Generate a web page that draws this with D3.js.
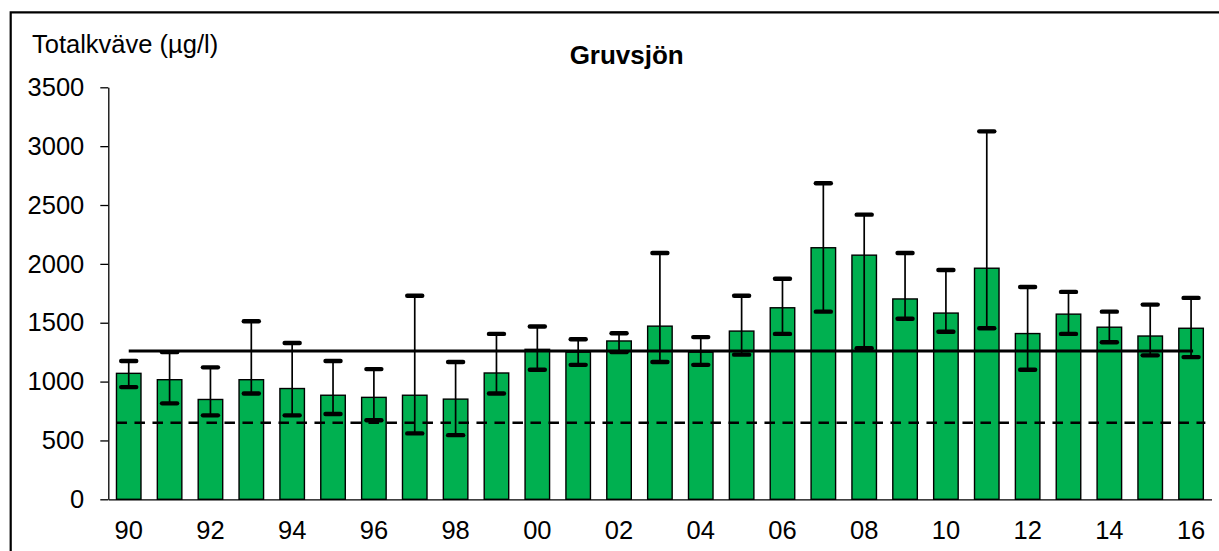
<!DOCTYPE html>
<html>
<head>
<meta charset="utf-8">
<script src="https://cdn.jsdelivr.net/npm/d3@7"></script>
<style>
  html, body { margin: 0; padding: 0; background: #fff; overflow: hidden; }
  svg { display: block; }
  text { font-family: "Liberation Sans", Arial, sans-serif; fill: #000; }
</style>
</head>
<body>
<svg id="chart" width="1219" height="551"></svg>
<script>
// Total nitrogen in Gruvsjön, yearly mean with min/max range (µg/l)
const years = ["90","91","92","93","94","95","96","97","98","99","00","01","02","03",
               "04","05","06","07","08","09","10","11","12","13","14","15","16"];
const meanValues = [1070,1016,848,1016,941,884,866,884,851,1073,1274,1250,1345,1471,
                    1250,1429,1627,2137,2074,1702,1582,1963,1408,1573,1462,1387,1453];
const maxValues  = [1175,1250,1121,1513,1328,1175,1106,1729,1166,1405,1468,1360,1411,2092,
                    1378,1729,1873,2685,2418,2092,1948,3126,1804,1762,1594,1654,1711];
const minValues  = [953,815,713,899,713,725,671,560,545,899,1100,1142,1250,1166,
                    1142,1229,1405,1594,1283,1534,1423,1453,1100,1405,1334,1223,1208];
const yTicks = [0,500,1000,1500,2000,2500,3000,3500];
const periodMean = 1260;   // mean for the whole period
const referenceLevel = 650; // reference level (dashed)

const svg = d3.select("#chart");

// outer frame (left and top edges fall inside the view)
svg.append("path")
  .attr("d", "M10.7,560V12.3H1230")
  .attr("fill", "none").attr("stroke", "#000").attr("stroke-width", 2.2);

const x = d3.scaleBand()
  .domain(years)
  .range([108.3, 1211.5])
  .paddingInner(0.4)
  .paddingOuter(0.2);

const y = d3.scaleLinear()
  .domain([0, 3500])
  .range([499.3, 87.3]);

// bars
svg.append("g").selectAll("rect")
  .data(years)
  .join("rect")
  .attr("x", d => x(d))
  .attr("y", (d, i) => y(meanValues[i]))
  .attr("width", x.bandwidth())
  .attr("height", (d, i) => y(0) - y(meanValues[i]))
  .attr("fill", "#00B050")
  .attr("stroke", "#000")
  .attr("stroke-width", 1.4);

// reference and period mean lines
svg.append("line")
  .attr("x1", x(years[0])).attr("x2", x(years[years.length - 1]) + x.bandwidth() + 2)
  .attr("y1", y(referenceLevel)).attr("y2", y(referenceLevel))
  .attr("stroke", "#000").attr("stroke-width", 2.6)
  .attr("stroke-dasharray", "10.5,7.5");

svg.append("line")
  .attr("x1", x(years[0]) + x.bandwidth() / 2)
  .attr("x2", x(years[years.length - 1]) + x.bandwidth() / 2 + 2)
  .attr("y1", y(periodMean)).attr("y2", y(periodMean))
  .attr("stroke", "#000").attr("stroke-width", 3.2);

// min/max range bars
const err = svg.append("g");
years.forEach((d, i) => {
  const cx = x(d) + x.bandwidth() / 2;
  err.append("line")
    .attr("x1", cx).attr("x2", cx)
    .attr("y1", y(maxValues[i])).attr("y2", y(minValues[i]))
    .attr("stroke", "#000").attr("stroke-width", 1.7);
  [maxValues[i], minValues[i]].forEach(v => {
    err.append("line")
      .attr("x1", cx - 7.5).attr("x2", cx + 7.5)
      .attr("y1", y(v)).attr("y2", y(v))
      .attr("stroke", "#000").attr("stroke-width", 4.4)
      .attr("stroke-linecap", "round");
  });
});

// axes
const yAxis = svg.append("g")
  .attr("transform", "translate(108.3,0)")
  .call(d3.axisLeft(y).tickValues(yTicks).tickFormat(d3.format("d"))
        .tickSize(8).tickSizeOuter(0).tickPadding(16));
yAxis.select(".domain").attr("stroke", "#000").attr("stroke-width", 1.3);
yAxis.selectAll(".tick line").attr("stroke", "#000").attr("stroke-width", 1.3);
yAxis.selectAll("text").attr("font-size", "25.5px")
  .attr("font-family", "'Liberation Sans', Arial, sans-serif").attr("fill", "#000");

const xAxis = svg.append("g")
  .attr("transform", `translate(0,${y(0)})`)
  .call(d3.axisBottom(x).tickValues(years.filter((d, i) => i % 2 === 0))
        .tickSize(0).tickSizeOuter(0).tickPadding(22));
xAxis.select(".domain").attr("stroke", "#000").attr("stroke-width", 1.3);
xAxis.selectAll("text").attr("font-size", "25.5px")
  .attr("font-family", "'Liberation Sans', Arial, sans-serif").attr("fill", "#000");

// titles
svg.append("text")
  .attr("x", 32).attr("y", 53.3)
  .attr("font-size", "25.5px")
  .text("Totalkväve (µg/l)");

svg.append("text")
  .attr("x", 626.7).attr("y", 64.3)
  .attr("text-anchor", "middle")
  .attr("font-size", "26px").attr("font-weight", "bold")
  .text("Gruvsjön");
</script>
</body>
</html>
